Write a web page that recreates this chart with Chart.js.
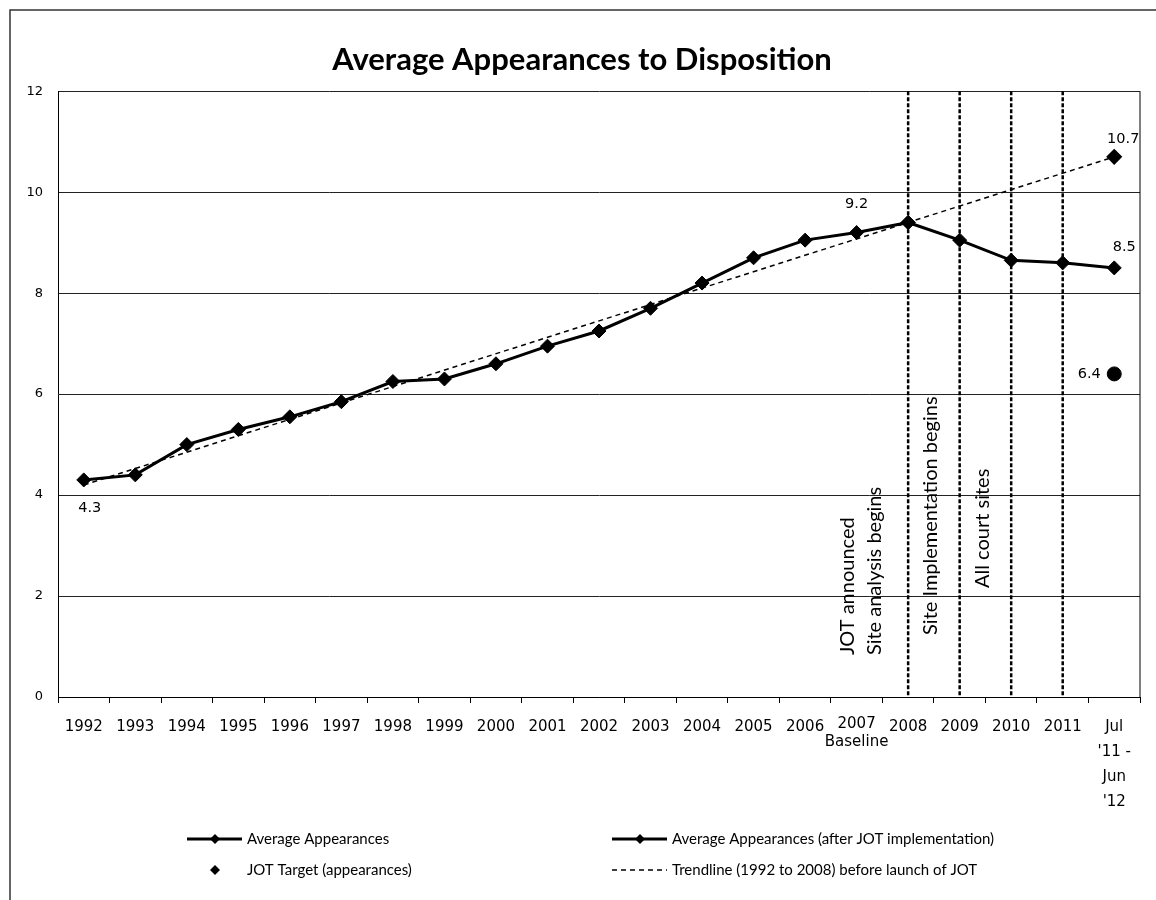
<!DOCTYPE html>
<html>
<head>
<meta charset="utf-8">
<title>Average Appearances to Disposition</title>
<script src="https://cdn.jsdelivr.net/npm/chart.js@4.4.1/dist/chart.umd.min.js"></script>
<style>
  html, body { margin: 0; padding: 0; background: #fff; }
  canvas { display: block; }
</style>
</head>
<body>
<canvas id="myChart" width="1156" height="900"></canvas>
<script>
// categories on the x axis and how their ticks are written
const categories = ["1992", "1993", "1994", "1995", "1996", "1997", "1998", "1999", "2000", "2001",
  "2002", "2003", "2004", "2005", "2006", "2007", "2008", "2009", "2010", "2011", "Jul '11 - Jun '12"];
const tickLabels = ["1992", "1993", "1994", "1995", "1996", "1997", "1998", "1999", "2000", "2001",
  "2002", "2003", "2004", "2005", "2006", ["2007", "Baseline"], "2008", "2009", "2010", "2011",
  ["Jul", "'11 -", "Jun", "'12"]];

// series values
const avgBefore = [4.3, 4.4, 5.0, 5.3, 5.55, 5.85, 6.25, 6.3, 6.6, 6.95, 7.25, 7.7, 8.2, 8.7, 9.05, 9.2, 9.4,
  null, null, null, null];
const avgAfter = [null, null, null, null, null, null, null, null, null, null, null, null, null, null, null, null,
  9.4, 9.05, 8.65, 8.6, 8.5];
const jotTarget = [null, null, null, null, null, null, null, null, null, null, null, null, null, null, null, null,
  null, null, null, null, 6.4];
const trendline = [4.2, null, null, null, null, null, null, null, null, null, null, null, null, null, null, null,
  null, null, null, null, 10.7];

const yTicks = [0, 2, 4, 6, 8, 10, 12];

// milestone lines and their notes
const markerYears = ["2008", "2009", "2010", "2011"];
const phaseNotes = [
  { text: "JOT announced", at: "2007", dx: -9, from: 0.83 },
  { text: "Site analysis begins", at: "2007", dx: 18, from: 0.83 },
  { text: "Site Implementation begins", at: "2008", dx: 22, from: 1.23 },
  { text: "All court sites", at: "2009", dx: 23, from: 2.16 }
];

// which points get a value label (dataset index, point index, offset)
const pointNotes = [
  { set: 0, i: 0, dx: 6, dy: 28 },
  { set: 0, i: 15, dx: 0, dy: -28 },
  { set: 3, i: 20, dx: 9, dy: -18 },
  { set: 1, i: 20, dx: 10, dy: -21 },
  { set: 2, i: 20, dx: -25, dy: 0 }
];

const legendSlots = [
  { set: 0, x: 187, y: 839, line: true, marker: true },
  { set: 1, x: 612, y: 839, line: true, marker: true },
  { set: 2, x: 187, y: 870, line: false, marker: true },
  { set: 3, x: 612, y: 870, line: true, marker: false }
];

function diamond(ctx, x, y, r) {
  ctx.beginPath();
  ctx.moveTo(x - r, y);
  ctx.lineTo(x, y - r);
  ctx.lineTo(x + r, y);
  ctx.lineTo(x, y + r);
  ctx.closePath();
  ctx.fill();
}

const framePlugin = {
  id: "frame",
  beforeDraw(chart) {
    const ctx = chart.ctx;
    ctx.save();
    ctx.fillStyle = "#fff";
    ctx.fillRect(0, 0, chart.width, chart.height);
    ctx.strokeStyle = "#333";
    ctx.lineWidth = 1.5;
    ctx.beginPath();
    ctx.moveTo(10, chart.height);
    ctx.lineTo(10, 10);
    ctx.lineTo(chart.width, 10);
    ctx.stroke();
    ctx.restore();
  }
};

const phasePlugin = {
  id: "phases",
  beforeDatasetsDraw(chart) {
    const ctx = chart.ctx;
    const area = chart.chartArea;
    const x = chart.scales.x;
    const y = chart.scales.y;
    ctx.save();
    ctx.strokeStyle = "#000";
    ctx.lineWidth = 1;
    ctx.beginPath();
    ctx.moveTo(area.right, area.top);
    ctx.lineTo(area.right, area.bottom);
    ctx.stroke();

    ctx.lineWidth = 2.5;
    ctx.setLineDash([4, 2]);
    markerYears.forEach(function (yr) {
      const px = x.getPixelForValue(categories.indexOf(yr));
      ctx.beginPath();
      ctx.moveTo(px, area.top);
      ctx.lineTo(px, area.bottom);
      ctx.stroke();
    });
    ctx.setLineDash([]);

    ctx.fillStyle = "#000";
    ctx.font = "20px Lato";
    ctx.textAlign = "left";
    ctx.textBaseline = "middle";
    phaseNotes.forEach(function (n) {
      const px = x.getPixelForValue(categories.indexOf(n.at)) + n.dx;
      const py = y.getPixelForValue(n.from);
      ctx.save();
      ctx.translate(px, py);
      ctx.rotate(-Math.PI / 2);
      ctx.fillText(n.text, 0, 0);
      ctx.restore();
    });
    ctx.restore();
  }
};

const labelPlugin = {
  id: "pointLabels",
  afterDatasetsDraw(chart) {
    const ctx = chart.ctx;
    ctx.save();
    ctx.fillStyle = "#000";
    ctx.font = "14.5px 'DejaVu Sans'";
    ctx.textAlign = "center";
    ctx.textBaseline = "middle";
    pointNotes.forEach(function (n) {
      const pt = chart.getDatasetMeta(n.set).data[n.i];
      const v = chart.data.datasets[n.set].data[n.i];
      ctx.fillText(v.toFixed(1), pt.x + n.dx, pt.y + n.dy);
    });
    ctx.restore();
  }
};

const legendPlugin = {
  id: "bottomLegend",
  afterDraw(chart) {
    const ctx = chart.ctx;
    ctx.save();
    ctx.font = "15px Lato";
    ctx.textAlign = "left";
    ctx.textBaseline = "middle";
    legendSlots.forEach(function (s) {
      const ds = chart.data.datasets[s.set];
      ctx.strokeStyle = "#000";
      ctx.fillStyle = "#000";
      if (s.line) {
        ctx.lineWidth = ds.borderDash ? 1.5 : 3;
        ctx.setLineDash(ds.borderDash || []);
        ctx.beginPath();
        ctx.moveTo(s.x, s.y);
        ctx.lineTo(s.x + 55, s.y);
        ctx.stroke();
        ctx.setLineDash([]);
      }
      if (s.marker) diamond(ctx, s.x + 28, s.y, 5);
      ctx.fillText(ds.label, s.x + 60, s.y);
    });
    ctx.restore();
  }
};

const ctx = document.getElementById("myChart").getContext("2d");
const chart = new Chart(ctx, {
  type: "line",
  data: {
    labels: tickLabels,
    datasets: [
      {
        label: "Average Appearances",
        data: avgBefore,
        borderColor: "#000",
        backgroundColor: "#000",
        borderWidth: 3,
        pointStyle: "rectRot",
        pointRadius: 7,
        pointBorderWidth: 1,
        order: 1
      },
      {
        label: "Average Appearances (after JOT implementation)",
        data: avgAfter,
        borderColor: "#000",
        backgroundColor: "#000",
        borderWidth: 3,
        pointStyle: "rectRot",
        pointRadius: 7,
        pointBorderWidth: 1,
        order: 1
      },
      {
        label: "JOT Target (appearances)",
        data: jotTarget,
        showLine: false,
        borderColor: "#000",
        backgroundColor: "#000",
        pointStyle: "circle",
        pointRadius: 7,
        order: 1
      },
      {
        label: "Trendline (1992 to 2008) before launch of JOT",
        data: trendline,
        spanGaps: true,
        borderColor: "#000",
        backgroundColor: "#000",
        borderWidth: 1.5,
        borderDash: [5, 4],
        pointStyle: "rectRot",
        pointRadius: function (c) { return c.dataIndex === categories.length - 1 ? 7 : 0; },
        order: 5
      }
    ]
  },
  options: {
    responsive: false,
    animation: false,
    devicePixelRatio: 1,
    layout: { padding: { left: 24, right: 16, top: 0, bottom: 0 } },
    plugins: {
      legend: { display: false },
      tooltip: { enabled: false },
      title: {
        display: true,
        text: "Average Appearances to Disposition",
        color: "#000",
        font: { family: "Lato", size: 31, weight: "bold" },
        padding: { top: 41, bottom: 13 }
      }
    },
    scales: {
      x: {
        offset: true,
        grid: { display: true, drawOnChartArea: false, drawTicks: true, tickLength: 6, color: "#000", offset: true },
        border: { color: "#000", width: 1 },
        ticks: {
          color: "#000",
          maxRotation: 0,
          autoSkip: false,
          padding: 12,
          font: function (c) {
            return { family: "DejaVu Sans", size: 15, lineHeight: c.index === 15 ? 1.2 : 1.66 };
          }
        },
        afterFit: function (scale) { scale.height = 203; }
      },
      y: {
        min: 0,
        max: 12,
        grid: { color: "#222", lineWidth: 1, drawTicks: false },
        border: { color: "#000", width: 1 },
        ticks: {
          stepSize: 2,
          color: "#000",
          padding: 15,
          font: { family: "DejaVu Sans", size: 13 },
          callback: function (v) { return yTicks.indexOf(v) >= 0 ? v : ""; }
        },
        afterFit: function (scale) { scale.width = 34; }
      }
    }
  },
  plugins: [framePlugin, phasePlugin, labelPlugin, legendPlugin]
});
</script>
</body>
</html>
